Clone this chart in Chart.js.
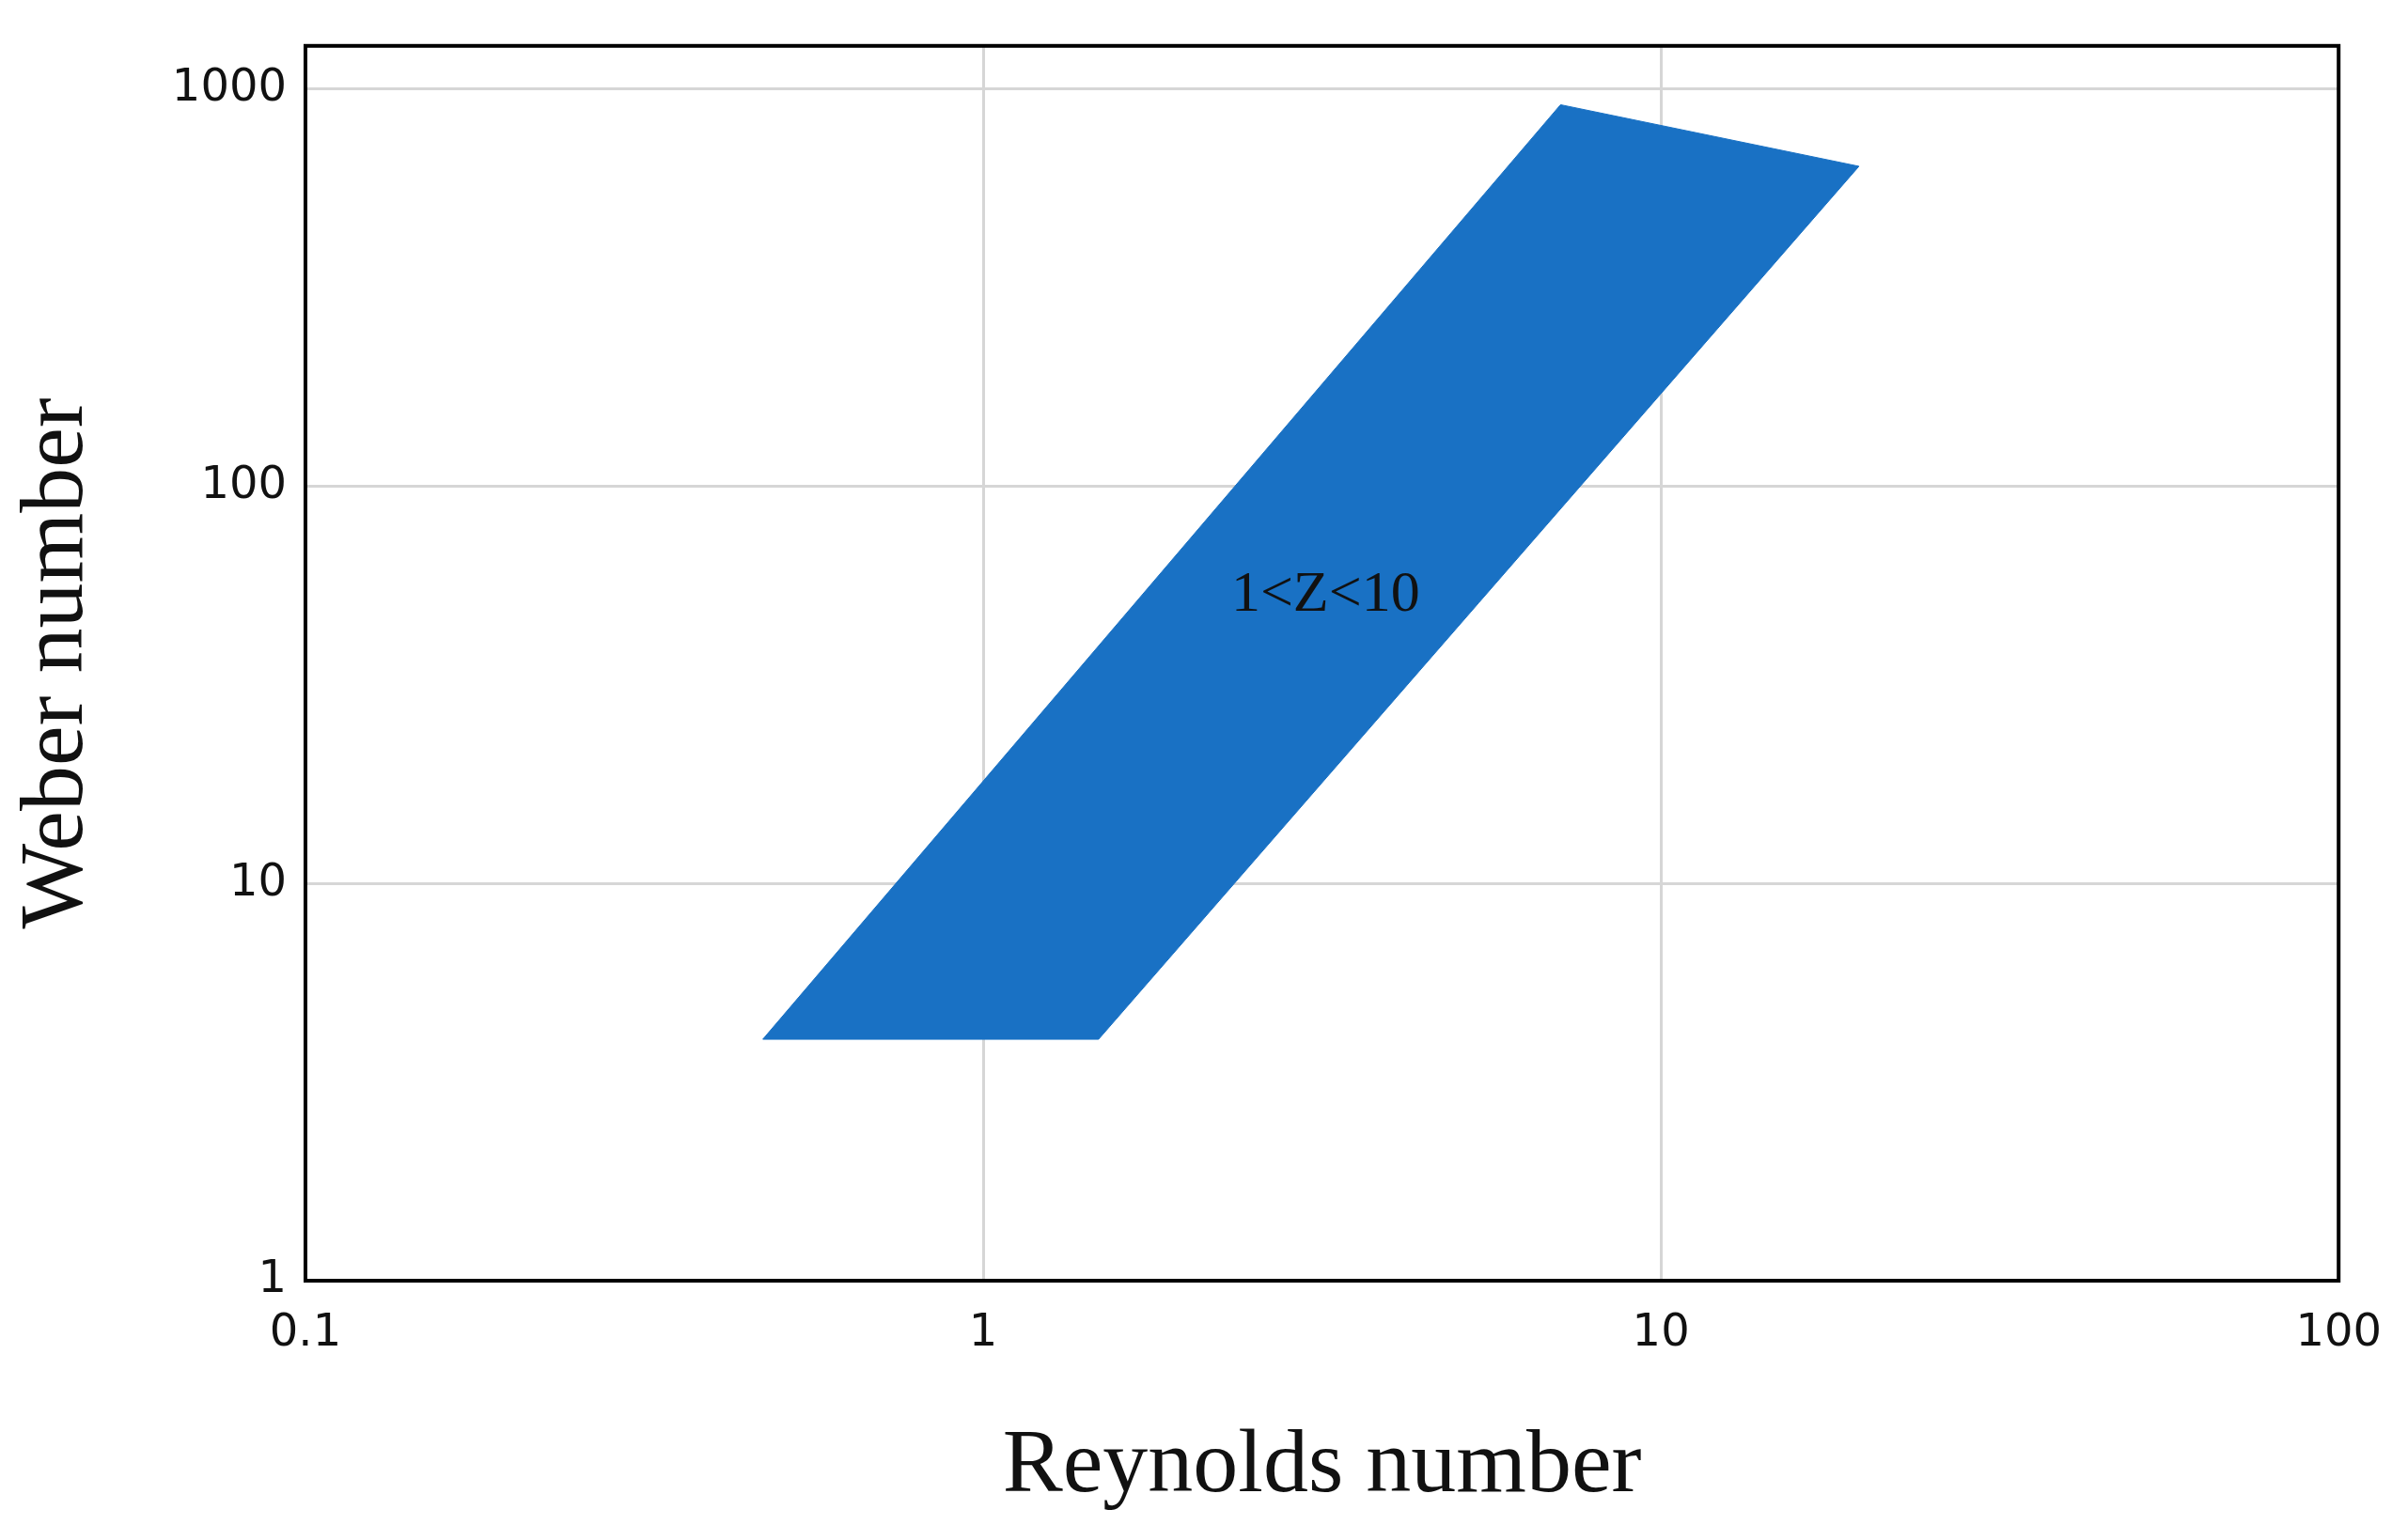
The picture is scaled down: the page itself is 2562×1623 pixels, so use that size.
<!DOCTYPE html>
<html><head><meta charset="utf-8">
<script src="https://cdn.jsdelivr.net/npm/chart.js@4/dist/chart.umd.min.js"></script>
<style>html,body{margin:0;background:#fff}#wrap{width:2562px;height:1623px}</style>
</head><body><div id="wrap"><canvas id="c"></canvas></div>
<script>
// region corners (Reynolds, Weber), clockwise
var reynolds = [0.473, 1.48, 19.6, 7.11, 0.473];
var weber = [4.05, 4.05, 637, 910, 4.05];
var xTicks = [0.1, 1, 10, 100];
var yTicks = [1, 10, 100, 1000];
var regionLabel = {text: '1<Z<10', x: 3.2, y: 53};

var pts = reynolds.map((r, i) => ({x: r, y: weber[i]}));

var framePlugin = {
    id: 'frame',
    afterDatasetsDraw(chart) {
        let ctx = chart.ctx, a = chart.chartArea;
        let sx = chart.scales.x, sy = chart.scales.y;
        ctx.save();
        ctx.fillStyle = '#111';
        ctx.font = '62px "Liberation Serif"';
        ctx.textAlign = 'center';
        ctx.textBaseline = 'middle';
        ctx.fillText(regionLabel.text, sx.getPixelForValue(regionLabel.x), sy.getPixelForValue(regionLabel.y));
        ctx.strokeStyle = '#000';
        ctx.lineWidth = 4;
        ctx.strokeRect(a.left, a.top, a.right - a.left, a.bottom - a.top);
        ctx.restore();
    }
};

new Chart(document.getElementById('c'), {
    type: 'scatter',
    data: {datasets: [{
        data: pts,
        showLine: true,
        fill: 'shape',
        backgroundColor: '#1971c4',
        borderColor: '#1971c4',
        borderWidth: 1,
        pointRadius: 0,
        tension: 0
    }]},
    options: {
        responsive: true, maintainAspectRatio: false, animation: false,
        layout: {padding: {top: 30, right: 66}},
        plugins: {legend: {display: false}, tooltip: {enabled: false}},
        scales: {
            x: {
                type: 'logarithmic', min: 0.1, max: 100,
                afterBuildTicks: ax => { ax.ticks = xTicks.map(v => ({value: v})); },
                afterFit: ax => { ax.height = 260; },
                grid: {color: '#d6d6d6', lineWidth: 3, drawTicks: false},
                border: {display: false},
                ticks: {color: '#111', font: {size: 48, family: 'DejaVu Sans'}, padding: 28,
                    callback: v => String(v)},
                title: {display: true, text: 'Reynolds number', color: '#111',
                    font: {size: 96, family: 'Liberation Serif'}, padding: {top: 10}}
            },
            y: {
                type: 'logarithmic', min: 1, max: 1280,
                afterBuildTicks: ax => { ax.ticks = yTicks.map(v => ({value: v})); },
                afterFit: ax => { ax.width = 325; },
                grid: {color: '#d6d6d6', lineWidth: 3, drawTicks: false},
                border: {display: false},
                ticks: {color: '#111', font: {size: 48, family: 'DejaVu Sans'}, padding: 20,
                    callback: v => String(v)},
                title: {display: true, text: 'Weber number', color: '#111',
                    font: {size: 96, family: 'Liberation Serif'}, padding: {bottom: 10}}
            }
        }
    },
    plugins: [framePlugin]
});
</script></body></html>
